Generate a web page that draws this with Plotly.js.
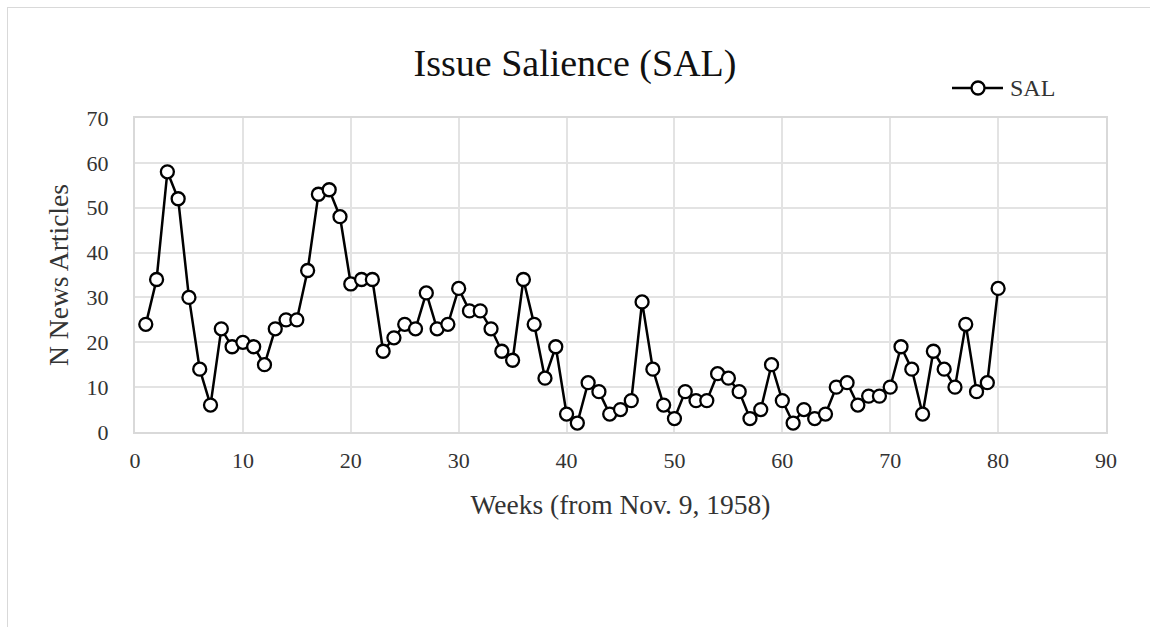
<!DOCTYPE html>
<html>
<head>
<meta charset="utf-8">
<script src="https://cdn.plot.ly/plotly-3.0.1.min.js"></script>
<style>
html,body{margin:0;padding:0;background:#fff;overflow:hidden;}
#chart{width:1150px;height:627px;position:absolute;left:0;top:0;}
#frame{position:absolute;left:7px;top:7px;width:1200px;height:700px;border-left:1px solid #d9d9d9;border-top:1px solid #d9d9d9;pointer-events:none;}
</style>
</head>
<body>
<div id="chart"></div>
<div id="frame"></div>
<script>
const weeks = [];
for (let i = 1; i <= 80; i++) weeks.push(i);
const salValues = [24,34,58,52,30,14,6,23,19,20,
                   19,15,23,25,25,36,53,54,48,33,
                   34,34,18,21,24,23,31,23,24,32,
                   27,27,23,18,16,34,24,12,19,4,
                   2,11,9,4,5,7,29,14,6,3,
                   9,7,7,13,12,9,3,5,15,7,
                   2,5,3,4,10,11,6,8,8,10,
                   19,14,4,18,14,10,24,9,11,32];
const xTicks = [0,10,20,30,40,50,60,70,80,90];
const yTicks = [0,10,20,30,40,50,60,70];
const seriesName = 'SAL';

const font = 'Liberation Serif';
const legY = 1.0955;

Plotly.newPlot('chart', [{
  x: weeks, y: salValues, name: seriesName, type: 'scatter', mode: 'lines+markers',
  line: {color: '#000', width: 2.5},
  marker: {symbol: 'circle', size: 13, color: '#fff', line: {color: '#000', width: 2.3}},
  showlegend: false
}], {
  width: 1150, height: 627,
  margin: {l: 135, r: 44, t: 118, b: 195},
  paper_bgcolor: '#fff', plot_bgcolor: '#fff',
  font: {family: font, color: '#333', size: 22},
  title: {text: 'Issue Salience (SAL)', font: {family: font, size: 38, color: '#111'}, x: 0.5, xanchor: 'center', y: 0.9, yanchor: 'middle', yref: 'container'},
  xaxis: {range: [0, 90], tickvals: xTicks, showgrid: true, gridcolor: '#e3e3e3', gridwidth: 2,
    showline: true, linecolor: '#d9d9d9', linewidth: 2, mirror: true, zeroline: false, ticks: '',
    tickfont: {family: font, size: 22, color: '#333'}, ticklabelstandoff: 8,
    title: {text: 'Weeks (from Nov. 9, 1958)', font: {family: font, size: 27.5, color: '#333'}, standoff: 22}},
  yaxis: {range: [0, 70], tickvals: yTicks, showgrid: true, gridcolor: '#e3e3e3', gridwidth: 2,
    showline: true, linecolor: '#d9d9d9', linewidth: 2, mirror: true, zeroline: false, ticks: '',
    tickfont: {family: font, size: 22, color: '#333'}, ticklabelstandoff: 20,
    title: {text: 'N News Articles', font: {family: font, size: 27.5, color: '#333'}, standoff: 10}},
  showlegend: false,
  shapes: [
    {type: 'line', xref: 'paper', yref: 'paper', x0: 0.8414, x1: 0.8939, y0: legY, y1: legY,
     line: {color: '#000', width: 2.5}},
    {type: 'circle', xref: 'paper', yref: 'paper', xsizemode: 'pixel', ysizemode: 'pixel',
     xanchor: 0.8682, yanchor: legY, x0: -6.5, x1: 6.5, y0: -6.5, y1: 6.5,
     fillcolor: '#fff', line: {color: '#000', width: 2.3}}
  ],
  annotations: [
    {xref: 'paper', yref: 'paper', x: 0.8991, y: legY, xanchor: 'left', yanchor: 'middle',
     text: seriesName, showarrow: false, font: {family: font, size: 24, color: '#333'}}
  ]
}, {displayModeBar: false, staticPlot: true});
</script>
</body>
</html>
